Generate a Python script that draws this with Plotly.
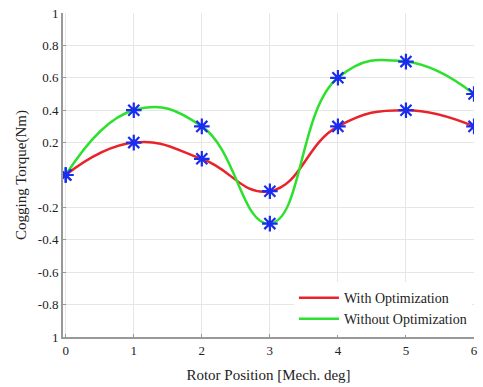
import plotly.graph_objects as go

positions = [0, 1, 2, 3, 4, 5, 6]
with_opt = [0, 0.2, 0.1, -0.1, 0.3, 0.4, 0.3]
without_opt = [0, 0.4, 0.3, -0.3, 0.6, 0.7, 0.5]
y_tickvals = [1, 0.8, 0.6, 0.4, 0.2, -0.2, -0.4, -0.6, -0.8, -1]
y_ticktext = ["1", "0.8", "0.6", "0.4", "0.2", "-0.2", "-0.4", "-0.6", "-0.8", "1"]
x_ticks = [0, 1, 2, 3, 4, 5, 6]

SERIF = "Liberation Serif"

fig = go.Figure()
fig.add_trace(go.Scatter(x=positions, y=with_opt, mode="lines", name="With Optimization",
                         line=dict(color="#e8242a", width=2.5, shape="spline", smoothing=1.3)))
fig.add_trace(go.Scatter(x=positions, y=without_opt, mode="lines", name="Without Optimization",
                         line=dict(color="#2ee02e", width=2.5, shape="spline", smoothing=1.3)))
for ys in (with_opt, without_opt):
    fig.add_trace(go.Scatter(x=positions, y=ys, mode="markers", showlegend=False,
                             marker=dict(symbol="asterisk", size=13, color="#1a2cf0",
                                         line=dict(color="#1a2cf0", width=2.2))))

fig.update_layout(
    width=483, height=387,
    margin=dict(l=63, r=5, t=13, b=50),
    paper_bgcolor="white", plot_bgcolor="white",
    font=dict(family=SERIF, size=13, color="#222"),
    legend=dict(x=0.995, y=0.006, xanchor="right", yanchor="bottom",
                bgcolor="white", font=dict(family=SERIF, size=14),
                tracegroupgap=0, itemwidth=40),
    showlegend=True,
)
fig.update_xaxes(range=[-0.04, 6], tickmode="array", tickvals=x_ticks,
                 ticktext=[str(v) for v in x_ticks], showgrid=True, gridcolor="#e6e6e6",
                 showline=True, linecolor="#999", linewidth=2, ticks="inside", ticklen=3,
                 tickcolor="#999", zeroline=False,
                 tickfont=dict(family=SERIF, size=13, color="#222"),
                 title=dict(text="Rotor Position [Mech. deg]", font=dict(family=SERIF, size=15), standoff=13))
fig.update_yaxes(range=[-1, 1], tickmode="array", tickvals=y_tickvals, ticktext=y_ticktext, showgrid=True,
                 gridcolor="#e6e6e6", showline=True, linecolor="#999", linewidth=2,
                 ticks="inside", ticklen=3, tickcolor="#999", zeroline=False,
                 tickfont=dict(family=SERIF, size=13, color="#222"),
                 title=dict(text="Cogging Torque(Nm)", font=dict(family=SERIF, size=15), standoff=8))

fig.write_html("out.html")
